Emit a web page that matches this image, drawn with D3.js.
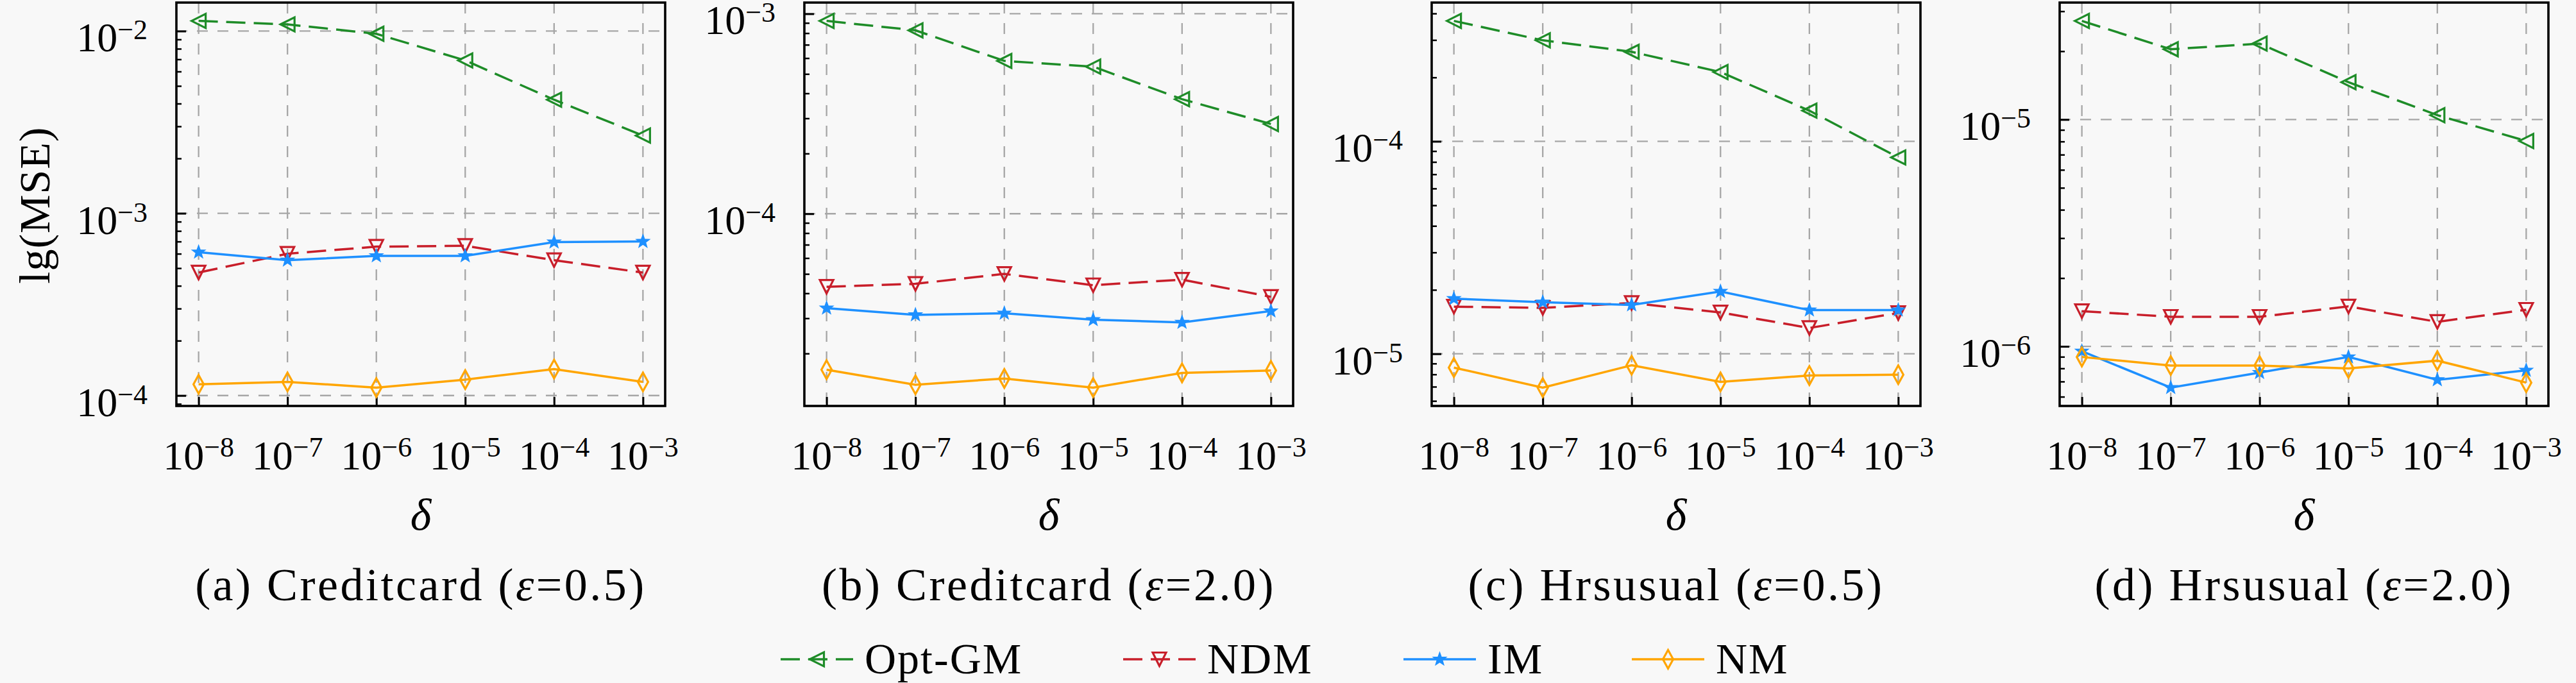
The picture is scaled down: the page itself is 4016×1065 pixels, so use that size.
<!DOCTYPE html>
<html><head><meta charset="utf-8">
<script src="https://cdn.jsdelivr.net/npm/d3@7"></script>
<style>
body{margin:0;background:#f8f8f8;}
text{font-family:"Liberation Serif","DejaVu Serif",serif;fill:#000;}
</style>
</head><body>
<svg id="chart" width="4016" height="1065"></svg>
<script>
// ---------------- data ----------------
const deltaExponents = ["−8","−7","−6","−5","−4","−3"];
const seriesNames = ["Opt-GM","NDM","IM","NM"];
const captionPrefix = ["(a) Creditcard (","(b) Creditcard (","(c) Hrsusual (","(d) Hrsusual ("];
const captionEps = ["0.5","2.0","0.5","2.0"];

const optGM_a = [0.01137, 0.01088, 0.00966, 0.00690, 0.00420, 0.00267];
const ndm_a   = [4.73e-4, 6.00e-4, 6.56e-4, 6.63e-4, 5.53e-4, 4.73e-4];
const im_a    = [6.12e-4, 5.53e-4, 5.84e-4, 5.84e-4, 6.95e-4, 7.00e-4];
const nm_a    = [1.153e-4, 1.188e-4, 1.105e-4, 1.223e-4, 1.397e-4, 1.188e-4];

const optGM_b = [9.21e-4, 8.26e-4, 5.81e-4, 5.44e-4, 3.74e-4, 2.81e-4];
const ndm_b   = [4.31e-5, 4.46e-5, 5.00e-5, 4.39e-5, 4.68e-5, 3.84e-5];
const im_b    = [3.37e-5, 3.12e-5, 3.18e-5, 2.95e-5, 2.86e-5, 3.26e-5];
const nm_b    = [1.66e-5, 1.395e-5, 1.50e-5, 1.35e-5, 1.60e-5, 1.645e-5];

const optGM_c = [3.69e-4, 2.99e-4, 2.64e-4, 2.12e-4, 1.395e-4, 8.40e-5];
const ndm_c   = [1.667e-5, 1.645e-5, 1.734e-5, 1.565e-5, 1.323e-5, 1.556e-5];
const im_c    = [1.817e-5, 1.750e-5, 1.698e-5, 1.965e-5, 1.605e-5, 1.605e-5];
const nm_c    = [8.61e-6, 6.93e-6, 8.83e-6, 7.37e-6, 7.90e-6, 7.97e-6];

const optGM_d = [2.72e-5, 2.04e-5, 2.16e-5, 1.46e-5, 1.045e-5, 8.04e-6];
const ndm_d   = [1.43e-6, 1.35e-6, 1.35e-6, 1.50e-6, 1.283e-6, 1.45e-6];
const im_d    = [9.52e-7, 6.58e-7, 7.66e-7, 8.98e-7, 7.12e-7, 7.84e-7];
const nm_d    = [8.98e-7, 8.23e-7, 8.23e-7, 8.00e-7, 8.65e-7, 6.92e-7];

const panelData = [
  [optGM_a, ndm_a, im_a, nm_a],
  [optGM_b, ndm_b, im_b, nm_b],
  [optGM_c, ndm_c, im_c, nm_c],
  [optGM_d, ndm_d, im_d, nm_d]
];

// ---------------- styles / layout ----------------
const colors = ["#1e8c28", "#c81e2a", "#1e90ff", "#ffa500"];
const dashes = ["30,13", "30,13", null, null];
const markerKind = ["triLeft", "triDown", "star", "thinDiamond"];
const panelLeft = [275, 1254, 2232, 3211];
const panelW = 762, plotTop = 4, plotBottom = 633;
const FS = 64;

function markerPath(kind){
  if(kind==="triLeft"){ const r=11; return `M${-r},0L${r},${-r}L${r},${r}Z`; }
  if(kind==="triDown"){ const r=10.5; return `M0,${r}L${-r},${-r}L${r},${-r}Z`; }
  if(kind==="thinDiamond"){ const h=14.5, w=8; return `M0,${-h}L${w},0L0,${h}L${-w},0Z`; }
  const R=10.5, ri=4.3; let p="";
  for(let k=0;k<10;k++){
    const rr = k%2===0?R:ri; const a = -Math.PI/2 + k*Math.PI/5;
    p += (k===0?"M":"L") + (rr*Math.cos(a)).toFixed(2)+","+(rr*Math.sin(a)).toFixed(2);
  }
  return p+"Z";
}
function drawMarker(sel, kind, color){
  const filled = kind==="star";
  sel.append("path").attr("d", markerPath(kind))
    .attr("fill", filled?color:"none")
    .attr("stroke", color).attr("stroke-width", filled?1.5:3.2)
    .attr("stroke-linejoin","miter");
}

const svg = d3.select("#chart");
svg.append("rect").attr("width",4016).attr("height",1065).attr("fill","#f8f8f8");

panelData.forEach((series, p) => {
  const L = panelLeft[p], R = L + panelW;
  const g = svg.append("g");
  const x = d3.scaleLinear().domain([-0.25, 5.25]).range([L, R]);
  const all = series.flat().map(v => Math.log10(v));
  const lo = d3.min(all), hi = d3.max(all), m = (hi - lo) * 0.05;
  const y = d3.scaleLog().domain([Math.pow(10, lo - m), Math.pow(10, hi + m)]).range([plotBottom, plotTop]);

  const majors = [], minors = [];
  for(let d = Math.floor(lo - m); d <= Math.ceil(hi + m); d++){
    const v = Math.pow(10, d);
    if(v >= y.domain()[0] && v <= y.domain()[1]) majors.push(v);
    for(let k = 2; k <= 9; k++){
      const mv = k * v;
      if(mv >= y.domain()[0] && mv <= y.domain()[1]) minors.push(mv);
    }
  }

  // grid
  g.selectAll(".vg").data(d3.range(6)).join("line")
    .attr("x1", i => x(i)).attr("x2", i => x(i)).attr("y1", plotTop).attr("y2", plotBottom)
    .attr("stroke", "#a6a6a6").attr("stroke-width", 2.3).attr("stroke-dasharray", "17,15");
  g.selectAll(".hg").data(majors).join("line")
    .attr("x1", L).attr("x2", R).attr("y1", d => y(d)).attr("y2", d => y(d))
    .attr("stroke", "#a6a6a6").attr("stroke-width", 2.3).attr("stroke-dasharray", "17,15");

  // axes ticks (inward)
  const ax = g.append("g").attr("transform", `translate(0,${plotBottom})`)
    .call(d3.axisBottom(x).tickValues(d3.range(6)).tickSize(-14).tickFormat(() => ""));
  ax.select(".domain").remove();
  ax.selectAll("line").attr("stroke", "#000").attr("stroke-width", 3);

  const ay = g.append("g").attr("transform", `translate(${L},0)`)
    .call(d3.axisLeft(y).tickValues(majors).tickSize(-15).tickFormat(() => ""));
  ay.select(".domain").remove();
  ay.selectAll("line").attr("stroke", "#000").attr("stroke-width", 3);
  const aym = g.append("g").attr("transform", `translate(${L},0)`)
    .call(d3.axisLeft(y).tickValues(minors).tickSize(-8).tickFormat(() => ""));
  aym.select(".domain").remove();
  aym.selectAll("line").attr("stroke", "#000").attr("stroke-width", 2.5);

  // x tick labels
  deltaExponents.forEach((e, i) => {
    const t = g.append("text").attr("x", x(i)).attr("y", 732).attr("text-anchor", "middle").attr("font-size", FS);
    t.append("tspan").text("10");
    t.append("tspan").attr("font-size", 44).attr("dy", -20).text(e);
  });
  // y tick labels
  majors.forEach(v => {
    const t = g.append("text").attr("x", L - 45).attr("y", y(v) + 32).attr("text-anchor", "end").attr("font-size", FS);
    t.append("tspan").text("10");
    t.append("tspan").attr("font-size", 44).attr("dy", -19).text("−" + Math.round(-Math.log10(v)));
  });

  // series
  series.forEach((vals, s) => {
    const line = d3.line().x((d, i) => x(i)).y(d => y(d));
    g.append("path").attr("d", line(vals)).attr("fill", "none")
      .attr("stroke", colors[s]).attr("stroke-width", 3.5)
      .attr("stroke-dasharray", dashes[s]);
    vals.forEach((v, i) => {
      const mg = g.append("g").attr("transform", `translate(${x(i)},${y(v)})`);
      drawMarker(mg, markerKind[s], colors[s]);
    });
  });

  // frame
  g.append("rect").attr("x", L).attr("y", plotTop).attr("width", panelW).attr("height", plotBottom - plotTop)
    .attr("fill", "none").attr("stroke", "#000").attr("stroke-width", 3.6);

  // x label
  g.append("text").attr("x", (L + R) / 2).attr("y", 826).attr("text-anchor", "middle")
    .attr("font-size", 70).attr("font-style", "italic").text("δ");
  // caption
  const c = g.append("text").attr("x", (L + R) / 2).attr("y", 936).attr("text-anchor", "middle")
    .attr("font-size", 72).attr("letter-spacing", 3.5);
  c.append("tspan").text(captionPrefix[p]);
  c.append("tspan").attr("font-style", "italic").text("ε");
  c.append("tspan").text("=" + captionEps[p] + ")");
});

// y label
svg.append("text").attr("transform", "translate(77,320) rotate(-90)").attr("text-anchor", "middle")
  .attr("font-size", 68).attr("letter-spacing", 1).text("lg(MSE)");

// legend
const legendX = [1217, 1751, 2188, 2544];
const legendY = 1028;
seriesNames.forEach((name, s) => {
  const lg = svg.append("g");
  lg.append("line").attr("x1", legendX[s]).attr("x2", legendX[s] + 113).attr("y1", legendY).attr("y2", legendY)
    .attr("stroke", colors[s]).attr("stroke-width", 3.5).attr("stroke-dasharray", dashes[s]);
  const mg = lg.append("g").attr("transform", `translate(${legendX[s] + 56.5},${legendY})`);
  drawMarker(mg, markerKind[s], colors[s]);
  lg.append("text").attr("x", legendX[s] + 131).attr("y", legendY + 22).attr("font-size", 68)
    .attr("letter-spacing", 2).text(name);
});
</script>
</body></html>
